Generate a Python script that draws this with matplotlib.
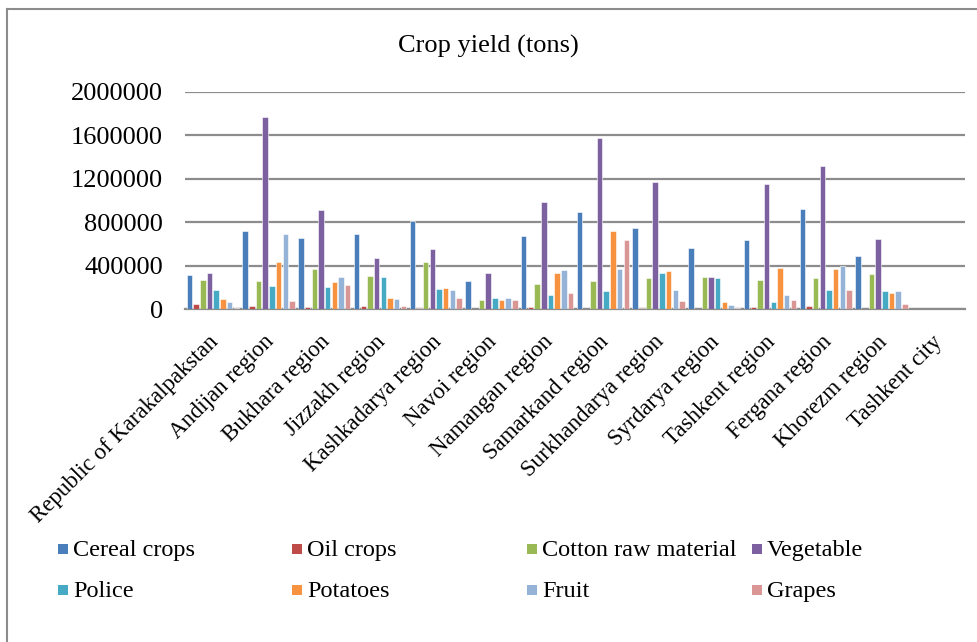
import numpy as np
import matplotlib
matplotlib.use('Agg')
import matplotlib.pyplot as plt
from matplotlib.lines import Line2D
from matplotlib.patches import Rectangle

regions = ['Republic of Karakalpakstan', 'Andijan region', 'Bukhara region', 'Jizzakh region',
           'Kashkadarya region', 'Navoi region', 'Namangan region', 'Samarkand region',
           'Surkhandarya region', 'Syrdarya region', 'Tashkent region', 'Fergana region',
           'Khorezm region', 'Tashkent city']

series_names = ['Cereal crops', 'Oil crops', 'Cotton raw material', 'Vegetable',
                'Police', 'Potatoes', 'Fruit', 'Grapes']

cereal = [310000, 723000, 652000, 692000, 812000, 255000, 677000, 898000, 751000, 563000, 637000, 923000, 492000, 0]
oil = [49000, 28000, 18000, 28000, 9000, 3000, 22000, 3000, 6000, 2000, 18000, 28000, 2000, 0]
cotton = [265000, 258000, 369000, 301000, 434000, 83000, 231000, 258000, 286000, 295000, 268000, 283000, 323000, 0]
vegetable = [332000, 1772000, 914000, 471000, 554000, 332000, 988000, 1575000, 1166000, 295000, 1154000, 1317000, 649000, 0]
police = [178000, 212000, 200000, 298000, 185000, 98000, 129000, 166000, 332000, 289000, 65000, 175000, 166000, 0]
potatoes = [92000, 434000, 252000, 98000, 194000, 83000, 335000, 723000, 351000, 65000, 382000, 369000, 145000, 0]
fruit = [65000, 692000, 298000, 89000, 172000, 102000, 360000, 369000, 175000, 40000, 129000, 400000, 166000, 0]
grapes = [6000, 77000, 218000, 25000, 105000, 83000, 148000, 637000, 71000, 9000, 83000, 175000, 46000, 0]

colors = ['#4A7EBB', '#BE4B48', '#98B954', '#7D60A0', '#46AAC5', '#F69240', '#95B3D7', '#D99694']

plt.rcParams['font.family'] = ['Liberation Serif', 'DejaVu Serif']

fig = plt.figure(figsize=(9.77, 6.42), dpi=100)
ax = fig.add_axes([185 / 977, 1 - 309 / 642, 780 / 977, 217 / 642])

all_series = [cereal, oil, cotton, vegetable, police, potatoes, fruit, grapes]
x = np.arange(len(regions))
n = len(all_series)
step = 0.96 / n
for i, (vals, c) in enumerate(zip(all_series, colors)):
    ax.bar(x - 0.48 + step * (i + 0.5), vals, width=step * 0.82, color=c,
           edgecolor='white', linewidth=0.4, zorder=3)

ax.set_xlim(-0.5, len(regions) - 0.5)
ax.set_ylim(0, 2000000)
ax.set_yticks([0, 400000, 800000, 1200000, 1600000, 2000000])
ax.set_yticklabels(['0', '400000', '800000', '1200000', '1600000', '2000000'], fontsize=19)
ax.tick_params(axis='y', length=0, pad=16)
ax.yaxis.grid(True, color='#8c8c8c', linewidth=1.6, zorder=0)
ax.set_axisbelow(True)
for s in ['left', 'right', 'top']:
    ax.spines[s].set_visible(False)
ax.spines['bottom'].set_color('#8c8c8c')
ax.spines['bottom'].set_linewidth(1.6)

ax.set_xticks(x - 0.09)
ax.set_xticklabels(regions, rotation=45, ha='right', va='top', rotation_mode='anchor', fontsize=16.5)
ax.tick_params(axis='x', length=0, pad=16)

fig.text(0.5, 1 - 46 / 642, 'Crop yield (tons)', ha='center', va='center', fontsize=19)

# legend laid out as a 4x2 grid, text on a shared baseline per row
leg_x = [58, 292, 527, 752]
leg_y = [549, 590]
for k, (name, c) in enumerate(zip(series_names, colors)):
    px = leg_x[k % 4]
    py = leg_y[k // 4]
    fig.patches.append(Rectangle((px / 977, 1 - (py + 5) / 642), 10 / 977, 10 / 642,
                                 transform=fig.transFigure, facecolor=c, edgecolor='none'))
    fig.text((px + 15) / 977, 1 - (py + 7) / 642, name, ha='left', va='baseline', fontsize=17.5)

# outer frame (left and top edges)
fig.lines.append(Line2D([7 / 977, 7 / 977], [0, 1 - 8.5 / 642], transform=fig.transFigure,
                        color='#8c8c8c', linewidth=1.5))
fig.lines.append(Line2D([7 / 977, 1], [1 - 8.5 / 642, 1 - 8.5 / 642], transform=fig.transFigure,
                        color='#8c8c8c', linewidth=1.5))

fig.savefig('out.png', dpi=100)
